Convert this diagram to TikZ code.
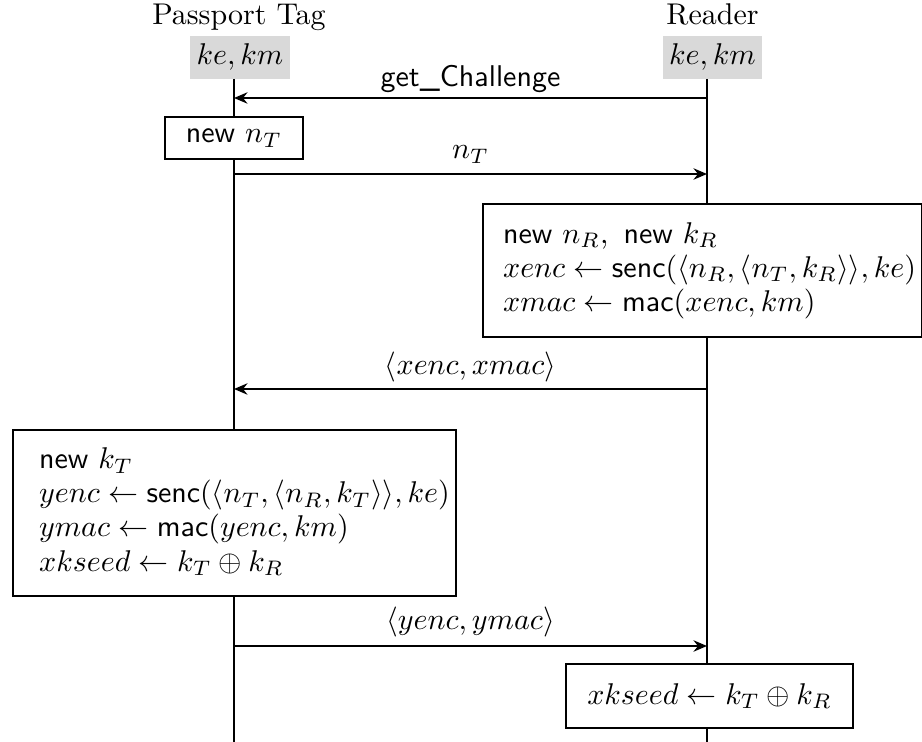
\documentclass[tikz,border=0pt]{standalone}
\usepackage{amsmath}
\usetikzlibrary{arrows.meta}
\begin{document}
\begin{tikzpicture}[x=0.3333pt,y=-0.3333pt, line width=0.7pt,
  hdr/.style={anchor=base, inner sep=0pt},
  keybox/.style={fill=black!15, minimum width=33pt, minimum height=14.3pt, inner sep=0pt},
  lifeline/.style={line width=0.75pt},
  msg/.style={-{Stealth[length=4.5pt, width=3.8pt, inset=1.5pt]}, line width=0.7pt},
  msglabel/.style={anchor=base, inner sep=0pt},
  actbox/.style={draw, fill=white, line width=0.7pt, inner sep=0pt},
  calcbox/.style={draw, fill=white, line width=0.7pt, inner ysep=0pt,
    execute at begin node={\renewcommand{\arraystretch}{0.95}}}]
\useasboundingbox (0,0) rectangle (922,742);
% headers
\node[hdr] (tagname) at (239,25) {Passport Tag};
\node[hdr] (readername) at (712.5,25) {Reader};
\node[keybox] (tagkeys) at (240,57.5) {$ke, km$};
\node[keybox] (readerkeys) at (712.5,57.5) {$ke, km$};
% lifelines
\coordinate (tagtop) at (234,79);
\coordinate (tagbot) at (234,742);
\coordinate (rdtop) at (707,79);
\coordinate (rdbot) at (707,742);
\draw[lifeline] (tagtop) -- (tagbot);
\draw[lifeline] (rdtop) -- (rdbot);
% message 1
\coordinate (m1r) at (707,98);
\coordinate (m1t) at (234,98);
\draw[msg] (m1r) -- (m1t);
\node[msglabel] (l1) at (470.5,87) {\textsf{get\_Challenge}};
% new nT
\node[actbox, minimum width=46pt, minimum height=14pt] (newnt) at (234,138) {\textsf{new} $n_T$};
% message 2
\coordinate (m2t) at (234,174);
\coordinate (m2r) at (707,174);
\draw[msg] (m2t) -- (m2r);
\node[msglabel] (l2) at (470.5,159) {$n_T$};
% reader computation
\node[calcbox, inner xsep=2pt, minimum height=44.3pt, anchor=west] (rdcalc) at (482,270.5)
  {\begin{tabular}{@{\hspace{4.7pt}}l@{}}
   \textsf{new} $n_R$,\enspace\textsf{new} $k_R$\\
   $xenc \leftarrow \textsf{senc}(\langle n_R, \langle n_T, k_R\rangle\rangle, ke)$\\
   $xmac \leftarrow \textsf{mac}(xenc, km)$
   \end{tabular}};
% message 3
\coordinate (m3r) at (707,389);
\coordinate (m3t) at (234,389);
\draw[msg] (m3r) -- (m3t);
\node[msglabel] (l3) at (470.5,375) {$\langle xenc, xmac\rangle$};
% tag computation
\node[calcbox, inner xsep=2pt, minimum height=55.3pt, anchor=west] (tagcalc) at (12,513)
  {\begin{tabular}{@{\hspace{6.7pt}}l@{}}
   \textsf{new} $k_T$\\
   $yenc \leftarrow \textsf{senc}(\langle n_T, \langle n_R, k_T\rangle\rangle, ke)$\\
   $ymac \leftarrow \textsf{mac}(yenc, km)$\\
   $xkseed \leftarrow k_T \oplus k_R$
   \end{tabular}};
% message 4
\coordinate (m4t) at (234,646);
\coordinate (m4r) at (707,646);
\draw[msg] (m4t) -- (m4r);
\node[msglabel] (l4) at (470.5,629) {$\langle yenc, ymac\rangle$};
% reader final
\node[actbox, minimum width=95.7pt, minimum height=21.3pt] (rdfinal) at (709.5,696) {$xkseed \leftarrow k_T \oplus k_R$};
\end{tikzpicture}
\end{document}
